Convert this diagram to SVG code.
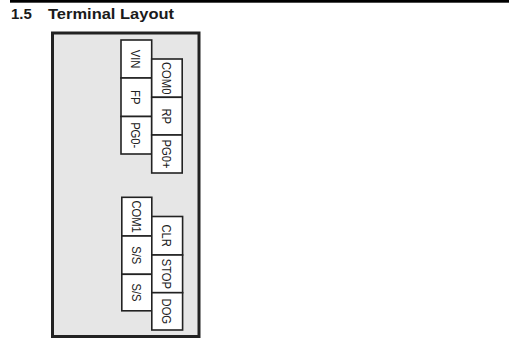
<svg xmlns="http://www.w3.org/2000/svg" width="509" height="343" viewBox="0 0 509 343">
<style>
.title{font-family:"Liberation Sans",Arial,sans-serif;font-weight:bold;font-size:15px;fill:#1a1a1a}
.cell{fill:#ffffff;stroke:#222222;stroke-width:1.6}
.lbl{font-family:"Liberation Sans",Arial,sans-serif;font-size:13.5px;fill:#222222;text-anchor:middle}
</style>
<rect x="0" y="0" width="509" height="343" fill="#ffffff"/>
<rect x="10" y="0" width="499" height="2.7" fill="#000000"/>
<text class="title" x="11" y="19">1.5</text>
<text class="title" x="48" y="19" textLength="126" lengthAdjust="spacingAndGlyphs">Terminal Layout</text>
<g id="housing">
<rect x="52.5" y="33" width="146.5" height="303.5" fill="#e6e6e6" stroke="#222222" stroke-width="3"/>
</g>
<g id="upper-terminals">
<g id="VIN"><rect class="cell" x="121" y="40" width="30.7" height="38"/><text class="lbl" transform="translate(136.3,59) rotate(90) scale(0.83,1)" y="4.8">VIN</text></g>
<g id="FP"><rect class="cell" x="121" y="78" width="30.7" height="38.5"/><text class="lbl" transform="translate(136.3,97.2) rotate(90) scale(0.83,1)" y="4.8">FP</text></g>
<g id="PG0-"><rect class="cell" x="121" y="116.5" width="30.7" height="37.5"/><text class="lbl" transform="translate(136.3,135.2) rotate(90) scale(0.83,1)" y="4.8">PG0-</text></g>
<g id="COM0"><rect class="cell" x="151.7" y="59" width="30.5" height="38.3"/><text class="lbl" transform="translate(167,78.2) rotate(90) scale(0.83,1)" y="4.8">COM0</text></g>
<g id="RP"><rect class="cell" x="151.7" y="97.3" width="30.5" height="37.7"/><text class="lbl" transform="translate(167,116.2) rotate(90) scale(0.83,1)" y="4.8">RP</text></g>
<g id="PG0+"><rect class="cell" x="151.7" y="135" width="30.5" height="38"/><text class="lbl" transform="translate(167,154) rotate(90) scale(0.83,1)" y="4.8">PG0+</text></g>
</g>
<g id="lower-terminals">
<g id="COM1"><rect class="cell" x="121.8" y="197.3" width="30" height="38.7"/><text class="lbl" transform="translate(136.8,216.6) rotate(90) scale(0.83,1)" y="4.8">COM1</text></g>
<g id="SS1"><rect class="cell" x="121.8" y="236" width="30" height="38.3"/><text class="lbl" transform="translate(136.8,255.2) rotate(90) scale(0.83,1)" y="4.8">S/S</text></g>
<g id="SS2"><rect class="cell" x="121.8" y="274.3" width="30" height="36.5"/><text class="lbl" transform="translate(136.8,292.5) rotate(90) scale(0.83,1)" y="4.8">S/S</text></g>
<g id="CLR"><rect class="cell" x="151.8" y="216.5" width="30.8" height="38.5"/><text class="lbl" transform="translate(167.2,235.7) rotate(90) scale(0.83,1)" y="4.8">CLR</text></g>
<g id="STOP"><rect class="cell" x="151.8" y="255" width="30.8" height="37.7"/><text class="lbl" transform="translate(167.2,273.8) rotate(90) scale(0.83,1)" y="4.8">STOP</text></g>
<g id="DOG"><rect class="cell" x="151.8" y="292.7" width="30.8" height="37.3"/><text class="lbl" transform="translate(167.2,311.3) rotate(90) scale(0.83,1)" y="4.8">DOG</text></g>
</g>
<g id="connectors"/>
</svg>
